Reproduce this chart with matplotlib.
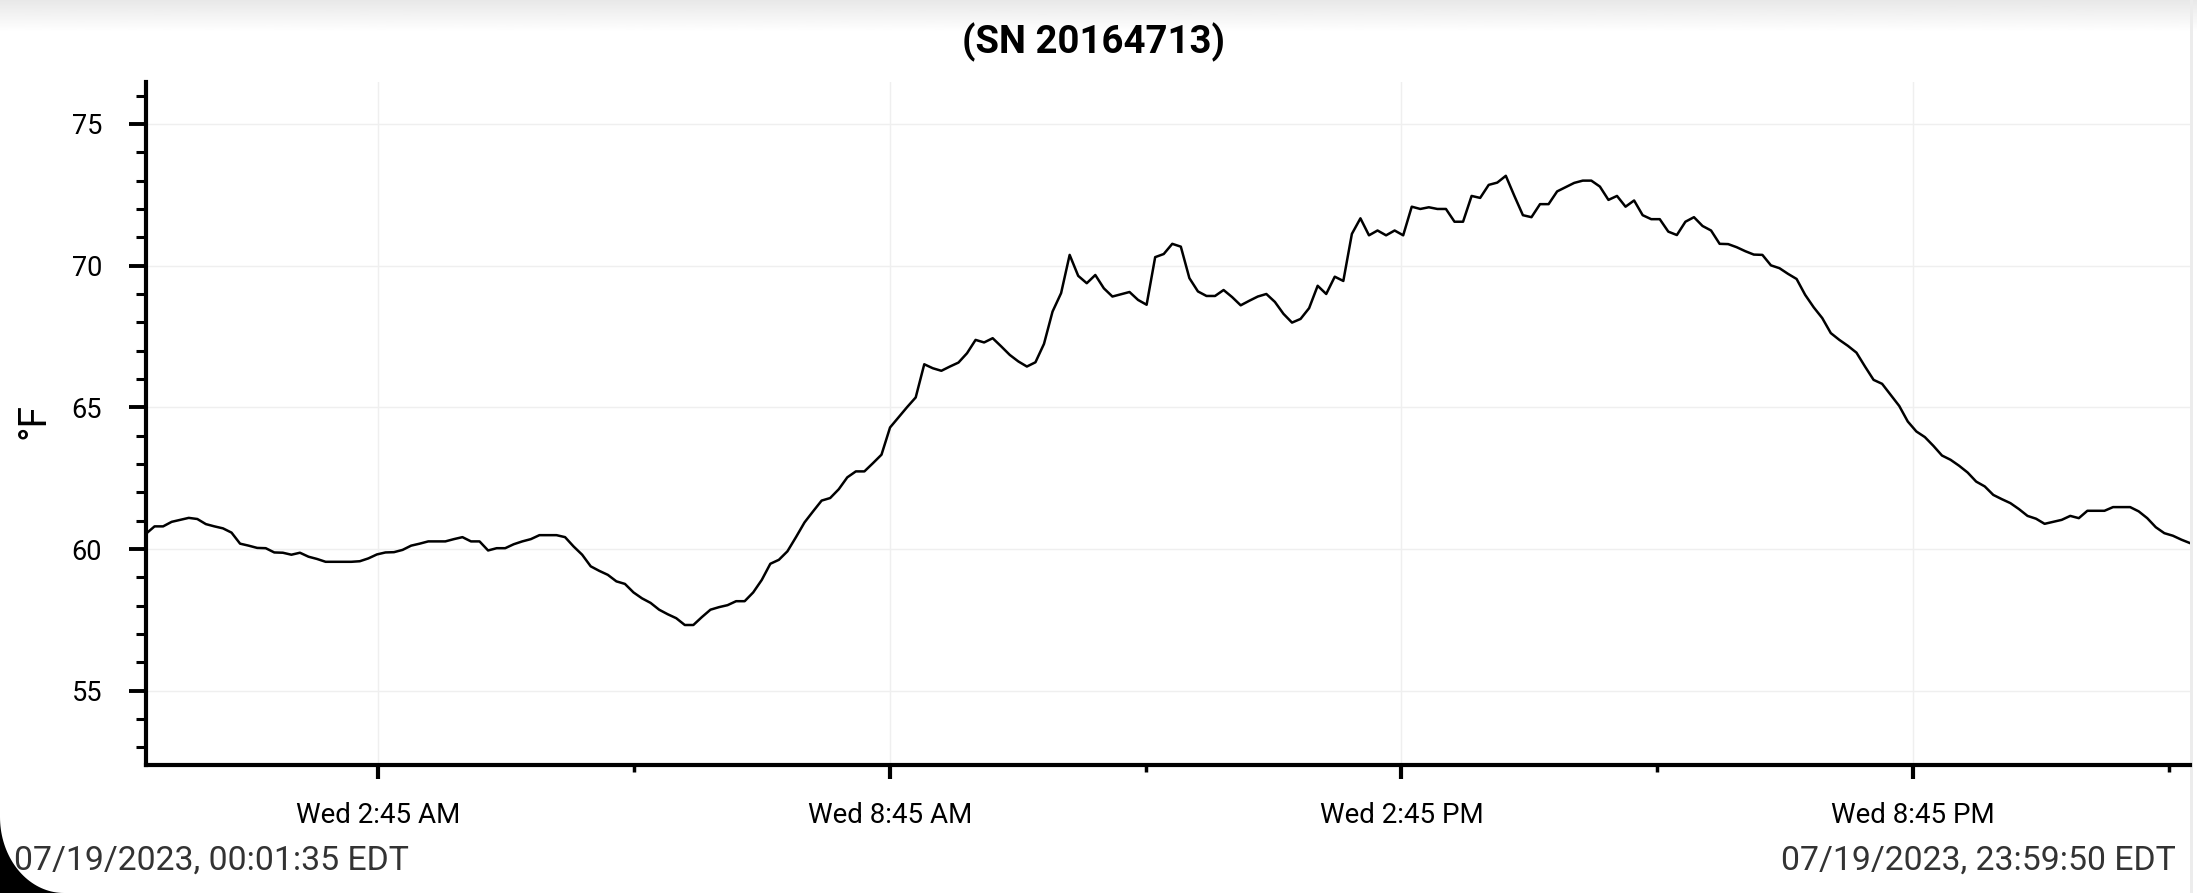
import numpy as np
import pandas as pd
import matplotlib
matplotlib.use("Agg")
import matplotlib.pyplot as plt
import matplotlib.dates as mdates
from matplotlib.ticker import MultipleLocator, FuncFormatter
from matplotlib.patches import Polygon, Rectangle

plt.rcParams['font.family'] = ['Roboto', 'DejaVu Sans']

# logger readings (deg F), one every ~6 minutes over 07/19/2023
night = [60.54, 60.80, 60.80, 60.96, 61.03, 61.10, 61.06, 60.88, 60.80, 60.73,
         60.58, 60.19, 60.12, 60.04, 60.03, 59.88, 59.87, 59.80, 59.87, 59.73,
         59.65, 59.55, 59.55, 59.55, 59.55, 59.57, 59.67, 59.81, 59.88, 59.89,
         59.97, 60.12, 60.19, 60.27, 60.27, 60.27, 60.35, 60.42, 60.27, 60.27,
         59.95, 60.03, 60.03, 60.17, 60.27, 60.35, 60.49, 60.49, 60.49, 60.42,
         60.09, 59.80, 59.39, 59.23, 59.09, 58.86, 58.77, 58.47, 58.26, 58.10]
morning = [57.86, 57.70, 57.56, 57.32, 57.32, 57.60, 57.86, 57.95, 58.02, 58.16,
           58.16, 58.47, 58.91, 59.48, 59.62, 59.92, 60.42, 60.94, 61.33, 61.71,
           61.80, 62.11, 62.53, 62.74, 62.74, 63.03, 63.33, 64.29, 64.65, 65.01,
           65.35, 66.52, 66.38, 66.29, 66.44, 66.58, 66.91, 67.38, 67.29, 67.44,
           67.15, 66.85, 66.62, 66.44, 66.59, 67.24, 68.38, 69.03, 70.38, 69.64,
           69.38, 69.67, 69.20, 68.91, 68.99, 69.07, 68.79, 68.62, 70.30]
afternoon = [70.41, 70.77, 70.67, 69.56, 69.09, 68.93, 68.93, 69.14, 68.89, 68.60,
             68.76, 68.91, 69.00, 68.72, 68.30, 67.99, 68.12, 68.50, 69.29, 69.00,
             69.61, 69.46, 71.12, 71.67, 71.07, 71.24, 71.07, 71.24, 71.07, 72.08,
             72.00, 72.06, 72.00, 72.00, 71.55, 71.55, 72.46, 72.39, 72.85, 72.93,
             73.17, 72.46, 71.78, 71.71, 72.17, 72.17, 72.62, 72.77, 72.92, 73.00,
             73.00, 72.79, 72.32, 72.46, 72.08, 72.30, 71.78, 71.64, 71.64, 71.20,
             71.08]
evening = [71.55, 71.71, 71.40, 71.24, 70.77, 70.76, 70.65, 70.51, 70.39, 70.38,
           70.01, 69.91, 69.71, 69.53, 68.97, 68.53, 68.15, 67.62, 67.38, 67.17,
           66.93, 66.44, 65.97, 65.83, 65.44, 65.05, 64.50, 64.15, 63.95, 63.64,
           63.30, 63.15, 62.94, 62.70, 62.38, 62.21, 61.91, 61.76, 61.62, 61.41,
           61.17, 61.07, 60.89, 60.96, 61.03, 61.17, 61.09, 61.35, 61.35, 61.35,
           61.48, 61.48, 61.48, 61.33, 61.09, 60.77, 60.56, 60.47, 60.33, 60.21]

temps = night + morning + afternoon + evening
start = "2023-07-19 00:01:35"
end = "2023-07-19 23:59:50"
times = pd.date_range(start, end, periods=len(temps))

title = "(SN 20164713)"
start_label = "07/19/2023, 00:01:35 EDT"
end_label = "07/19/2023, 23:59:50 EDT"
major_hours = ["02:45", "08:45", "14:45", "20:45"]
minor_hours = ["05:45", "11:45", "17:45", "23:45"]

W, H = 2197, 893
fig = plt.figure(figsize=(W / 100, H / 100), dpi=100)

# screenshot frame: top shadow, rounded corner, right edge
bg = fig.add_axes([0, 0, 1, 1], zorder=-1)
bg.axis('off')
grad = np.linspace(0.91, 1.0, 40).reshape(-1, 1)
bg.imshow(grad, cmap='gray', vmin=0, vmax=1, extent=[0, W, 32, 0], aspect='auto')
rx, ry = 64, 76
th = np.linspace(0, np.pi / 2, 40)
arc = np.column_stack([rx - rx * np.cos(th), (H - ry) + ry * np.sin(th)])
bg.add_patch(Polygon(np.vstack([[0, H], arc]), closed=True, color='black', lw=0))
bg.add_patch(Rectangle((2190, 0), 3, H, color='#ececec', lw=0))
bg.set_xlim(0, W)
bg.set_ylim(H, 0)

ax = fig.add_axes([146 / W, 1 - 765 / H, (2190 - 146) / W, (765 - 82) / H])
ax.set_facecolor('none')
ax.plot(times, temps, color='black', lw=1.8)

ax.set_xlim(times[0], times[-1])
ax.set_ylim(52.38, 76.48)

ax.yaxis.set_major_locator(MultipleLocator(5))
ax.yaxis.set_minor_locator(MultipleLocator(1))
day = pd.Timestamp("2023-07-19")
ax.set_xticks([mdates.date2num(day + pd.Timedelta(h + ":00")) for h in major_hours])
ax.set_xticks([mdates.date2num(day + pd.Timedelta(h + ":00")) for h in minor_hours], minor=True)


def fmt_time(x, pos):
    d = mdates.num2date(x)
    hr = d.hour % 12 or 12
    return "%s %d:%02d %s" % (d.strftime("%a"), hr, d.minute, "AM" if d.hour < 12 else "PM")


ax.xaxis.set_major_formatter(FuncFormatter(fmt_time))

for s in ['top', 'right']:
    ax.spines[s].set_visible(False)
for s in ['left', 'bottom']:
    ax.spines[s].set_linewidth(3)

ax.tick_params(axis='y', which='major', length=12, width=2.8, pad=19.5, labelsize=19.5)
ax.tick_params(axis='y', which='minor', length=7, width=2.2)
ax.tick_params(axis='x', which='major', length=10, width=3, pad=16.5, labelsize=20)
ax.tick_params(axis='x', which='minor', length=5, width=2.5)

ax.grid(True, which='major', color='#efefef', lw=1)
ax.set_axisbelow(True)

fig.text(34 / W, 1 - 421 / H, "°F", rotation=90, ha='center', va='center', fontsize=28)
fig.text(1094 / W, 1 - 53 / H, title, ha='center', va='baseline', fontsize=27.5, fontweight='bold')
fig.text(14 / W, 1 - 870 / H, start_label, ha='left', va='baseline', fontsize=24.3, color='#333333')
fig.text(2176 / W, 1 - 870 / H, end_label, ha='right', va='baseline', fontsize=24.3, color='#333333')

fig.savefig("out.png", dpi=100)
